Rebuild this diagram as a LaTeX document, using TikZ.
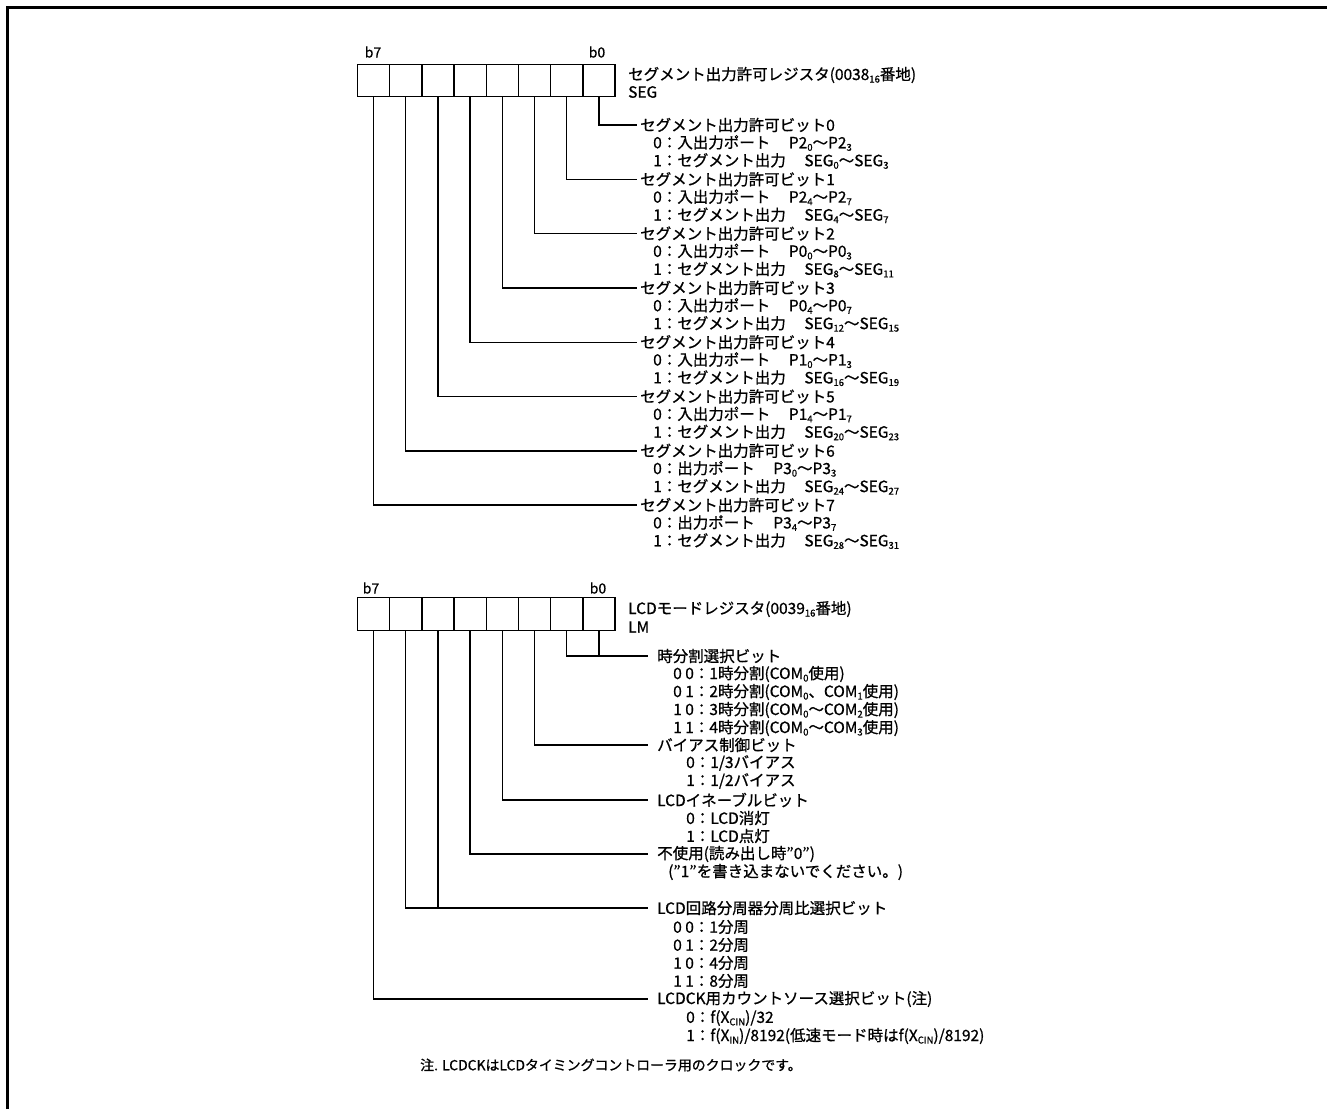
\documentclass[tikz,border=0pt]{standalone}
\usepackage{fontspec}
\setmainfont{Noto Sans CJK JP}[FakeBold=0.8]
\usetikzlibrary{positioning}
\newcommand{\lowidx}[1]{\raisebox{-0.3ex}{\fontsize{9.5}{9.5}\selectfont #1}}

\begin{document}
\begin{tikzpicture}[x=1pt, y=-1pt, font=\fontsize{15.5}{18}\selectfont,
    cell/.style={draw, line width=1.4pt, minimum width=32.2pt, minimum height=32.5pt, inner sep=0pt},
    bitlbl/.style={font=\fontsize{14}{14}\selectfont, inner sep=0pt},
    head/.style={anchor=west, inner xsep=3pt, inner ysep=0pt},
    lhead/.style={anchor=west, inner xsep=9pt, inner ysep=0pt},
    subline/.style={anchor=west, inner sep=0pt},
    wire/.style={line width=1.4pt}]
    \useasboundingbox (0,0) rectangle (1327,1109);
    \draw[line width=3pt] (7,1109) -- (7,7) -- (1327,7);

    \foreach \i in {0,...,7}
    {
        \node[cell] (s\i) at (598.9-32.2*\i, 80.5) {};
        \node[cell] (l\i) at (598.9-32.2*\i, 614) {};
    }
    \node[bitlbl] (sb7) at (373, 52) {b7};
    \node[bitlbl] (sb0) at (597, 52) {b0};
    \node[bitlbl] (lb7) at (371, 588) {b7};
    \node[bitlbl] (lb0) at (598, 588) {b0};

    \node[subline] (segname) at (628, 75) {セグメント出力許可レジスタ(0038\lowidx{16}番地)};
    \node[subline] (segabbr) at (628, 92) {SEG};
    \node[subline] (lcdname) at (628, 609) {LCDモードレジスタ(0039\lowidx{16}番地)};
    \node[subline] (lcdabbr) at (628, 627) {LM};

    \foreach \i/\port/\prange/\srange in {
        0/入出力ポート/{P2\lowidx{0}～P2\lowidx{3}}/{SEG\lowidx{0}～SEG\lowidx{3}},
        1/入出力ポート/{P2\lowidx{4}～P2\lowidx{7}}/{SEG\lowidx{4}～SEG\lowidx{7}},
        2/入出力ポート/{P0\lowidx{0}～P0\lowidx{3}}/{SEG\lowidx{8}～SEG\lowidx{11}},
        3/入出力ポート/{P0\lowidx{4}～P0\lowidx{7}}/{SEG\lowidx{12}～SEG\lowidx{15}},
        4/入出力ポート/{P1\lowidx{0}～P1\lowidx{3}}/{SEG\lowidx{16}～SEG\lowidx{19}},
        5/入出力ポート/{P1\lowidx{4}～P1\lowidx{7}}/{SEG\lowidx{20}～SEG\lowidx{23}},
        6/出力ポート/{P3\lowidx{0}～P3\lowidx{3}}/{SEG\lowidx{24}～SEG\lowidx{27}},
        7/出力ポート/{P3\lowidx{4}～P3\lowidx{7}}/{SEG\lowidx{28}～SEG\lowidx{31}}}
    {
        \node[head] (sh\i) at (637, 125+54.3*\i) {セグメント出力許可ビット\i};
        \node[subline] (sa\i) at (653, 143+54.3*\i) {0：\port\hspace{1.2em}\prange};
        \node[subline] (sz\i) at (653, 161+54.3*\i) {1：セグメント出力\hspace{1.2em}\srange};
        \draw[wire] (s\i.south) |- (sh\i.west);
    }

    \node[lhead] (lh0) at (648, 656) {時分割選択ビット};
    \node[subline] (lm0a) at (673, 674) {0 0：1時分割(COM\lowidx{0}使用)};
    \node[subline] (lm0b) at (673, 692) {0 1：2時分割(COM\lowidx{0}、COM\lowidx{1}使用)};
    \node[subline] (lm0c) at (673, 710) {1 0：3時分割(COM\lowidx{0}～COM\lowidx{2}使用)};
    \node[subline] (lm0d) at (673, 728) {1 1：4時分割(COM\lowidx{0}～COM\lowidx{3}使用)};

    \node[lhead] (lh2) at (648, 745) {バイアス制御ビット};
    \node[subline] (lm2a) at (686, 763) {0：1/3バイアス};
    \node[subline] (lm2b) at (686, 781) {1：1/2バイアス};

    \node[lhead] (lh3) at (648, 800) {LCDイネーブルビット};
    \node[subline] (lm3a) at (686, 818) {0：LCD消灯};
    \node[subline] (lm3b) at (686, 836) {1：LCD点灯};

    \node[lhead] (lh4) at (648, 854) {不使用(読み出し時"0")};
    \node[subline] (lm4a) at (668, 872) {("1"を書き込まないでください。)};

    \node[lhead] (lh5) at (648, 908) {LCD回路分周器分周比選択ビット};
    \node[subline] (lm5a) at (673, 927) {0 0：1分周};
    \node[subline] (lm5b) at (673, 945) {0 1：2分周};
    \node[subline] (lm5c) at (673, 963) {1 0：4分周};
    \node[subline] (lm5d) at (673, 981) {1 1：8分周};

    \node[lhead] (lh7) at (648, 999) {LCDCK用カウントソース選択ビット(注)};
    \node[subline] (lm7a) at (686, 1018) {0：f(X\lowidx{CIN})/32};
    \node[subline] (lm7b) at (686, 1036) {1：f(X\lowidx{IN})/8192(低速モード時はf(X\lowidx{CIN})/8192)};

    \node[subline, font=\fontsize{13.9}{15}\selectfont] (note) at (420, 1065) {注. LCDCKはLCDタイミングコントローラ用のクロックです。};

    \draw[wire] (l1.south) |- (lh0.west);
    \draw[wire] (l0.south) -- (l0.south |- lh0.west);
    \draw[wire] (l2.south) |- (lh2.west);
    \draw[wire] (l3.south) |- (lh3.west);
    \draw[wire] (l4.south) |- (lh4.west);
    \draw[wire] (l6.south) |- (lh5.west);
    \draw[wire] (l5.south) -- (l5.south |- lh5.west);
    \draw[wire] (l7.south) |- (lh7.west);
\end{tikzpicture}
\end{document}
